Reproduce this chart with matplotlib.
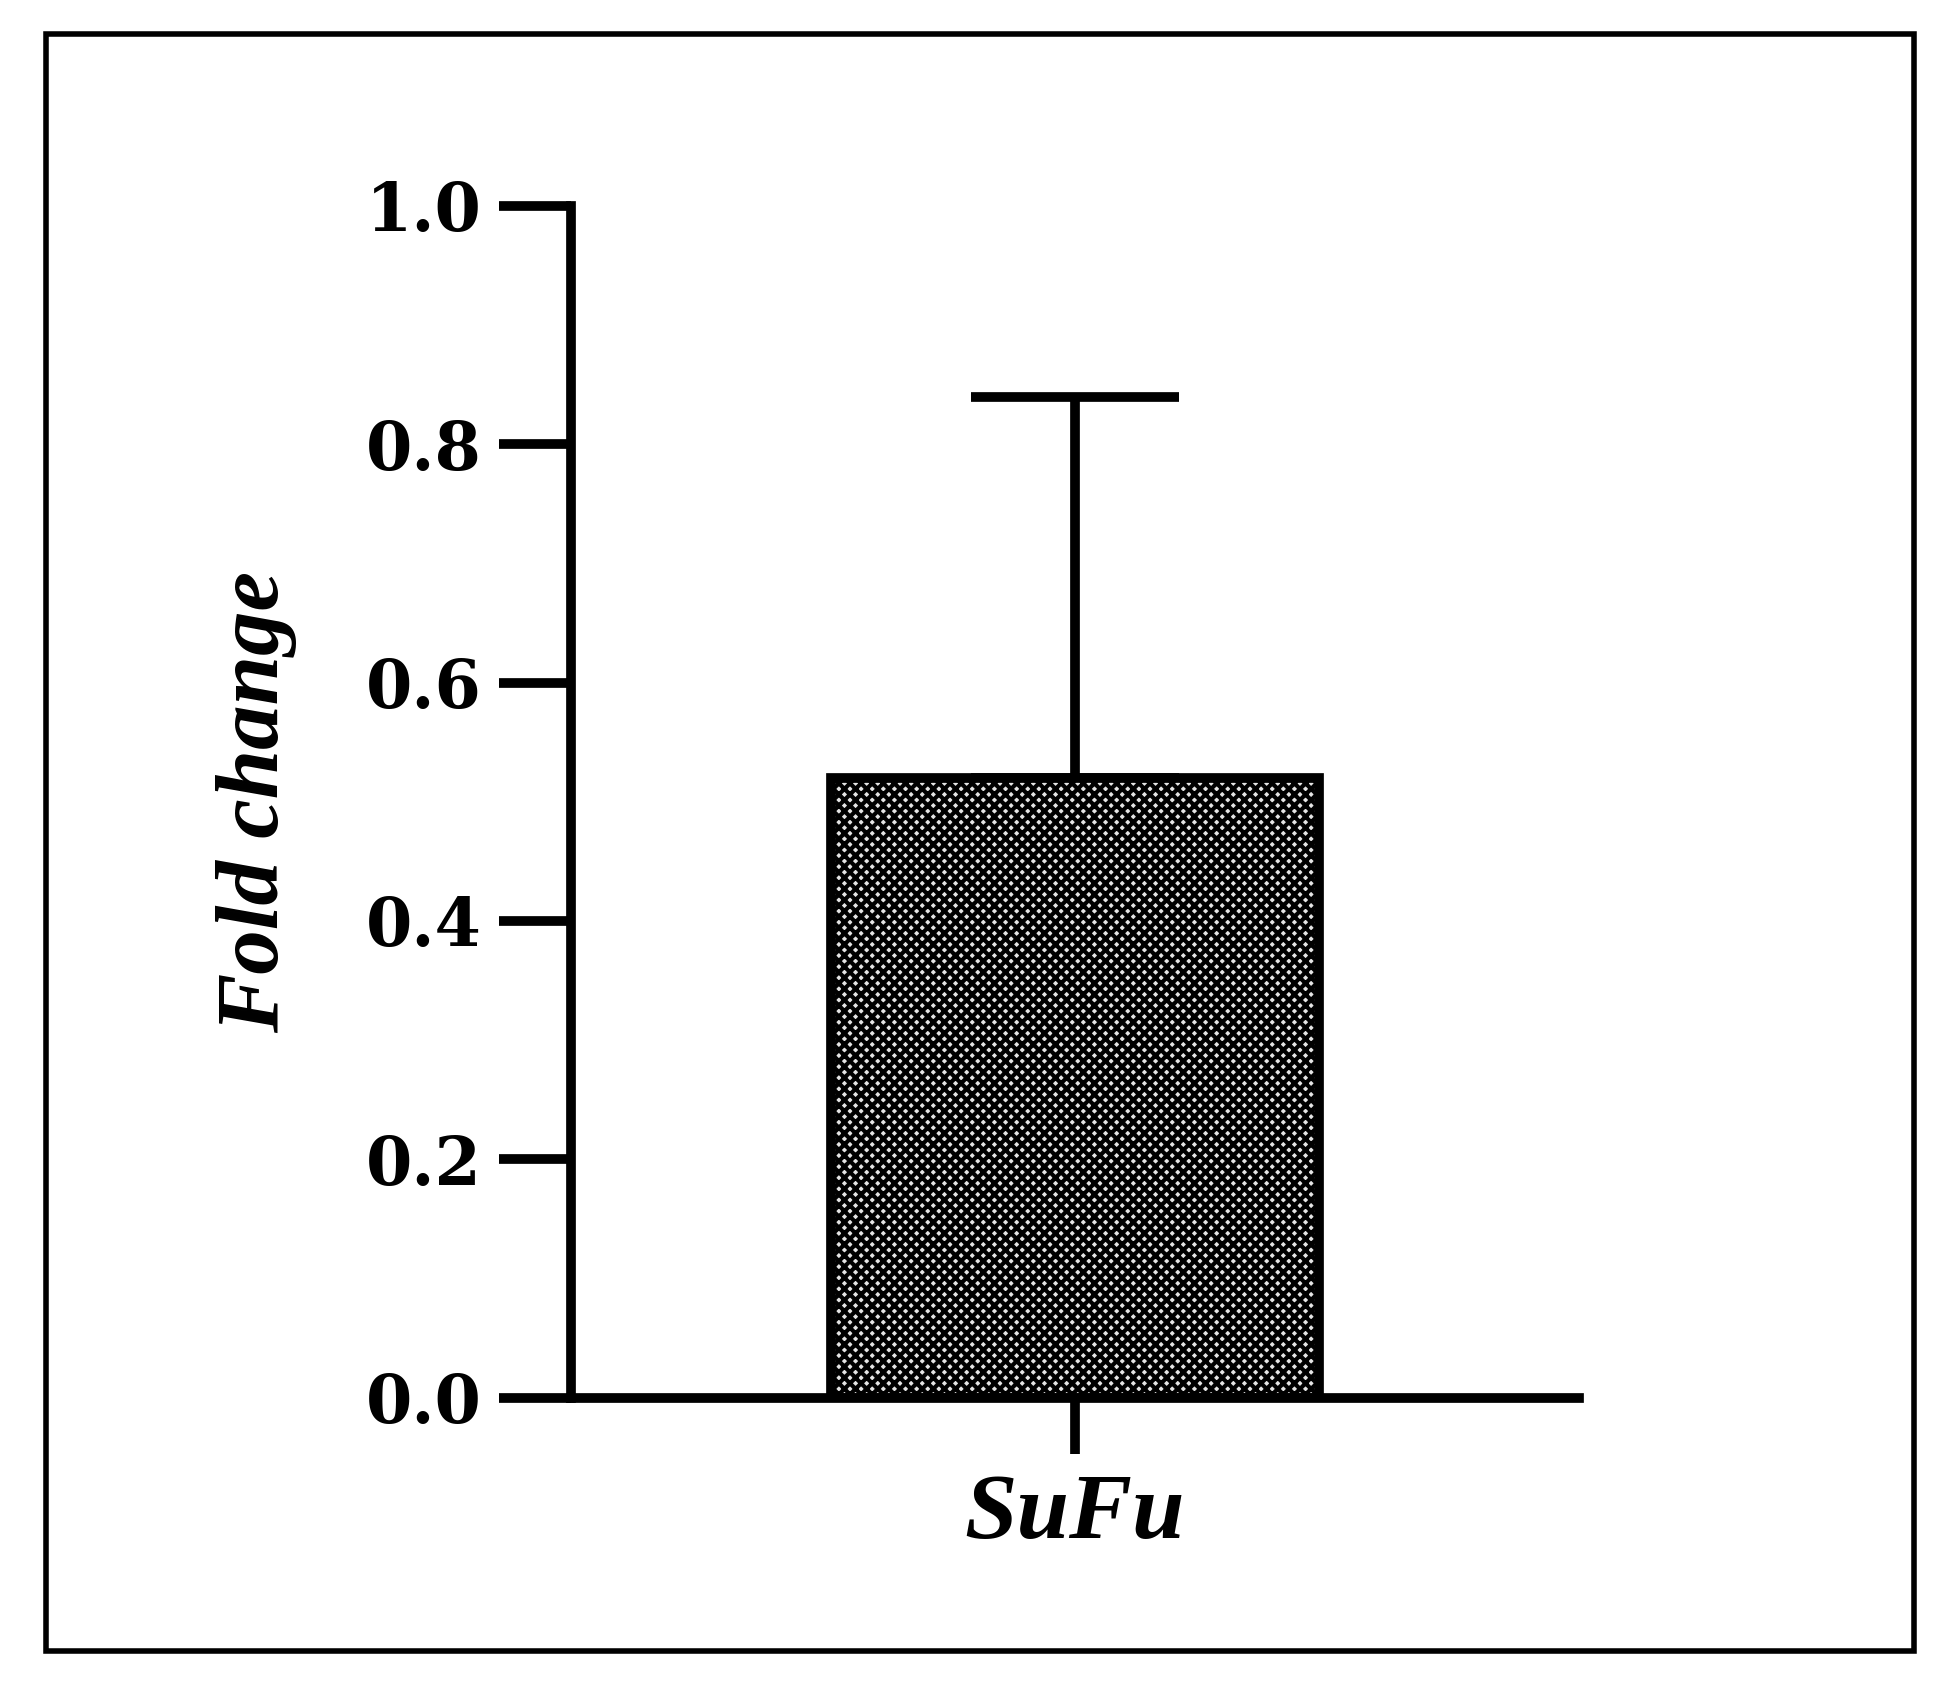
import matplotlib
matplotlib.use("Agg")
import matplotlib.pyplot as plt
from matplotlib.patches import Rectangle

# ── Data ──────────────────────────────────────────────────────────────────────
CATEGORIES = ["SuFu"]
MEANS      = [0.52]
ERRORS     = [0.32]
YTICKS     = [0.0, 0.2, 0.4, 0.6, 0.8, 1.0]

plt.rcParams["font.family"] = ["Liberation Serif", "DejaVu Serif"]
plt.rcParams["hatch.linewidth"] = 3.0

fig = plt.figure(figsize=(19.35, 16.88), dpi=100)
fig.patches.append(Rectangle((0.024, 0.022), 0.965, 0.958, transform=fig.transFigure,
                             fill=False, lw=4, ec="black"))
ax = fig.add_axes([0.295, 0.172, 0.521, 0.706])

lw = 7
ax.bar(range(len(CATEGORIES)), MEANS, width=0.484, color="#e4e4e4",
       edgecolor="black", linewidth=lw, hatch="xxx", zorder=2)
ax.errorbar(range(len(CATEGORIES)), MEANS, yerr=[[0] * len(ERRORS), ERRORS],
            fmt="none", ecolor="black", elinewidth=lw, capsize=75, capthick=lw, zorder=1)

ax.set_xlim(-0.5, 0.5)
ax.set_ylim(0, 1.0)
ax.spines[["top", "right"]].set_visible(False)
for s in ("left", "bottom"):
    ax.spines[s].set_linewidth(lw)
ax.spines["left"].set_capstyle("projecting")

ax.set_yticks(YTICKS)
ax.set_yticklabels([f"{v:.1f}" for v in YTICKS], fontsize=48, fontweight="bold",
                   family="DejaVu Serif")
ax.set_xticks(range(len(CATEGORIES)))
ax.set_xticklabels(CATEGORIES, fontsize=68, fontweight="bold", fontstyle="italic")
ax.tick_params(axis="y", width=lw, length=52, pad=12)
ax.tick_params(axis="x", width=lw, length=40, pad=14)
ax.set_ylabel("Fold change", fontsize=64, fontstyle="italic", fontweight="bold", labelpad=50)

fig.savefig("out.png", dpi=100)
